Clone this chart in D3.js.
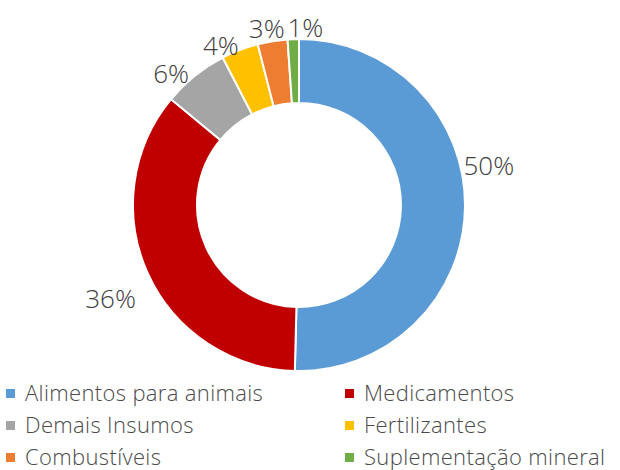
<!DOCTYPE html>
<html><head><meta charset="utf-8">
<script src="https://cdn.jsdelivr.net/npm/d3@7"></script>
<style>body{margin:0;background:#fff}svg{display:block}</style>
</head><body>
<svg id="c" width="620" height="470"></svg>
<script>
const categories = ["Alimentos para animais","Medicamentos","Demais Insumos","Fertilizantes","Combustíveis","Suplementação mineral"];
const values = [50.4, 35.6, 6.4, 3.6, 2.9, 1.1];
const labels = ["50%","36%","6%","4%","3%","1%"];
const colors = ["#5B9BD5","#C00000","#A5A5A5","#FFC000","#ED7D31","#70AD47"];

const svg = d3.select("#c");
const cx = 299, cy = 205, rOut = 166, rIn = 102;
const font = "'Open Sans', Lato, sans-serif";

const pie = d3.pie().sort(null).value(d => d.v);
const data = categories.map((c,i)=>({c, v: values[i], l: labels[i], col: colors[i]}));
const arcs = pie(data);
const arc = d3.arc().innerRadius(rIn).outerRadius(rOut);
const g = svg.append("g").attr("transform",`translate(${cx},${cy})`);
g.selectAll("path").data(arcs).join("path")
  .attr("d", arc).attr("fill", d=>d.data.col)
  .attr("stroke","#fff").attr("stroke-width",2);

// label placement: angle shift (rad) and radius per slice (Excel best-fit look)
const labelShift = [-0.22, -0.03, -0.09, -0.09, -0.02, 0.07];
const labelRad = [194, 210, 184, 178, 180, 178];
g.selectAll("text.lbl").data(arcs).join("text").attr("class","lbl")
  .attr("x", (d,i)=>{const a=(d.startAngle+d.endAngle)/2+labelShift[i]; return labelRad[i]*Math.sin(a);})
  .attr("y", (d,i)=>{const a=(d.startAngle+d.endAngle)/2+labelShift[i]; return -labelRad[i]*Math.cos(a);})
  .attr("text-anchor","middle").attr("dominant-baseline","central")
  .attr("font-family",font).attr("font-size",26).attr("font-weight",300).attr("fill","#404040")
  .text(d=>d.data.l);

// legend
const leg = svg.append("g");
const colX = [6, 345], rowY = [394, 426, 458];
data.forEach((d,i)=>{
  const x = colX[i%2], y = rowY[Math.floor(i/2)];
  leg.append("rect").attr("x",x).attr("y",y-5).attr("width",9).attr("height",9).attr("fill",d.col);
  leg.append("text").attr("x",x+19).attr("y",y+7).attr("font-family",font).attr("font-size",22)
    .attr("letter-spacing",0.35).attr("font-weight",300)
    .attr("fill","#4a4a4a").text(d.c);
});
</script>
</body></html>
